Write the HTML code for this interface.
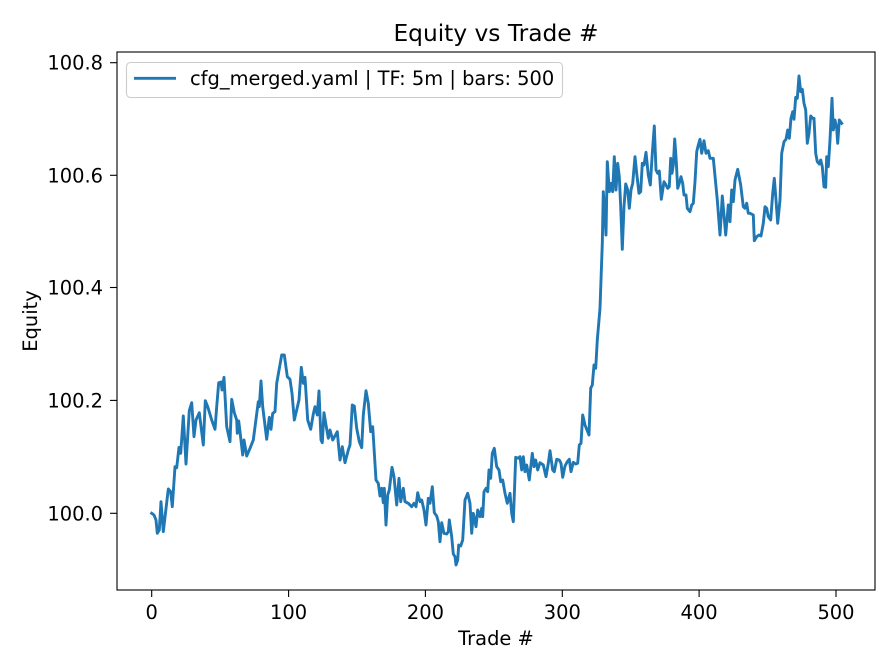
<!DOCTYPE html>
<html><head><meta charset="utf-8"><style>
html,body{margin:0;padding:0;background:#fff;}
svg{display:block;}
text{font-family:"DejaVu Sans","Liberation Sans",sans-serif;fill:#000;}
</style></head><body>
<svg width="896" height="672" viewBox="0 0 896 672" xmlns="http://www.w3.org/2000/svg">
<rect x="0" y="0" width="896" height="672" fill="#fff"/>
<text x="496" y="41" font-size="23.3" text-anchor="middle">Equity vs Trade #</text>
<polyline fill="none" stroke="#1f77b4" stroke-width="2.9" stroke-linejoin="round" stroke-linecap="square" points="
151.7,513.3 154,515 156,520 157.3,533.3 159.3,530 161,501.7 163.3,531.7 168.3,489 170.7,491.7 172.3,506.7 175,466.7 176.7,467.7 179,447.3 180.7,453.3 183.3,416 186,464 189.3,410.7 191.7,402.7 194,436.7 196,420 199.3,412.7 203.3,445 205.3,400.7 207.7,406.7 211.7,420 215,429.3 216.7,406.7 218.7,382.7 221,382 222,390 224,377.3 226.7,426.7 230,441.7 231.7,399.3 234.3,412.7 236.7,420 237.3,433.3 238.7,421 240,431.7 242.7,455 244,440 246.7,456 250,448.3 253.3,440 258.3,401.7 259.3,406.7 261,381 262.7,406.7 266.7,439.3 269.3,417.3 271,429.3 272.7,413.3 275,411.7 276.7,383.3 281.7,355 284.3,355 287.3,376.7 290,379.3 292,393.3 294.3,420 296.7,410 299,400 301.3,367.3 303.3,383.3 305,377.3 307.7,420 310.7,429.3 313.3,414 315,406.7 317.3,415 319,391 321,440 322.3,442.7 324,412.7 326,425 328.3,438.3
330,430 332.7,440 337.3,431.7 338.3,442.7 340,460 342.3,446.7 345,462.7 348.3,450 350,445 352.3,405 354.3,406 356.7,428.3 359.3,441.7 361.7,447.7 363.3,415 366,390.7 368.3,403.3 370.7,431.7 372.7,426.7 376,480 378.3,483.3 380,496 381.7,488.3 383.3,502.7 384.3,488.3 386,525 387.7,495 389.3,490 392,467.3 394,476.7 396.7,505 399,478.3 400.7,501.7 403.3,488.3 405,501.7 408.3,503.3 411.7,506.7 414,503.3 416,506.7 417.7,492.7 420,501.7 421.7,500 424,510 426,525 428.3,498.3 430,503.3 432.3,486.7 434.3,512.7 436.7,516 438.3,521.7 440,541.7 441.7,522.7 444,533.3 446.7,534 448.3,531.7 449.3,520 451.7,536.7 453.3,554 455,556.7 456,565 457.7,560 458.7,545 460.7,546 462.7,540 465,500 467.7,493.3 470,503.3 471.7,533.3 473.3,513.3 476,526.7 477.7,510 480,516.7 481.7,508.3 482.7,516.7 484,491.7 486,488.3 487.7,491.7 489,470 490.7,478.3 492.3,453.3 494.3,448.3 496.7,466.7 499,470 500.7,481.7 502.7,480 505,493.3 507.3,503.3
510,493.3 511.7,513.3 513.3,521.7 515.7,457.3 518.3,458.3 520,456.7 521.7,470 523.3,456.7 525,471.7 526.7,465 529.3,480 532.3,453.3 534,466.7 535.7,460 537.7,470 540,462.7 543.3,465 546,476.7 548.3,463.3 550,450.7 552.7,470 554.3,471.7 556.7,459.3 559.3,460 561,463.3 562.7,477.3 565,466 567.3,461.7 569.3,459.3 571,471.7 573.3,462.3 575.7,464 577.7,463.3 579.3,445 581,443.3 582.7,415 585,425 587.7,431.7 589,435 590.7,388.3 592.3,385 594,365 595.7,368.3 597.3,340 599,320 600,308.3
602.3,243.3 603.3,191.7 605,216.7 606,235 607.3,161.7 609.3,191.7 611,183.3 612.7,191.7 614.3,156.7 616,190 617.7,163.3 619.3,176.7 620.7,206.7 622.3,249.3 624,206.7 625.7,184 627.7,190 629.3,208.3 631,190 632.7,183.3 635,156.7 636.7,173.3 639,193.3 640.7,191.7 642.3,163.3 644,165 646,152.3 648.3,175 650.3,185 652.3,153.3 654.3,126 656,170 657.7,173.3 659.3,171 661.3,199.3 664,181.7 666,185 667.7,188.3 669.3,186.7 670.7,158.3 672,173.3 673.3,165 674.7,139 676,156.7 677.7,188.3 679.3,183.3 681,176.7 682.7,183.3 684,195 686,195 687.3,208.3 690,211.7 691.7,205 693.3,203.3 695,181.7 696.7,151.7 698.3,145
700,139.3 701.7,153.3 704,140.7 706,153.3 708.3,150.7 710,158.3 713.3,158.3 717.3,200 720,235 722.3,196 725.7,235 728.3,205 730,221.7 731.7,190 733.3,201.7 735,180 737.7,169.3 740.7,185 743.3,206.7 745,208.3 746.7,203.3 748.3,213.3 750,213.3 753.3,215 754.3,240.7 756.7,236.7 759,235 761,236 763.3,223.3 765,206.7 766.7,208.3 768.3,216.7 770.7,220 772.7,193.3 774.3,178.3 776,200 777.7,223.3 780,200 781.7,153.3 784,141.7 786,139.3 787.7,130 789.3,138.3 791,118.3 792.7,111.7 794,119.3 795.7,97.3 797.3,98.3 799,76 800.7,91.7 802.3,89.3 804,103.3 805.7,110 807.3,143.3 809,133.3 810.7,116 812.7,118.3 814,118.3 815.7,153.3 817.3,161.7 819.3,164 820.7,160 822.3,166.7 824,186.7 825.7,187.3 826.7,156.7 828.3,166.7 830,140 832,98.3 833.3,130 835,120 836.7,128.3 837.7,143.3 839.3,120 841.7,123.3"/>
<!-- axes frame -->
<rect x="117" y="52" width="758" height="538" fill="none" stroke="#000" stroke-width="1.1"/>
<!-- x ticks -->
<g stroke="#000" stroke-width="1.1">
<line x1="151.7" y1="590" x2="151.7" y2="597"/>
<line x1="288.6" y1="590" x2="288.6" y2="597"/>
<line x1="425.4" y1="590" x2="425.4" y2="597"/>
<line x1="562.3" y1="590" x2="562.3" y2="597"/>
<line x1="699.1" y1="590" x2="699.1" y2="597"/>
<line x1="836" y1="590" x2="836" y2="597"/>
<line x1="110" y1="513.3" x2="117" y2="513.3"/>
<line x1="110" y1="400.4" x2="117" y2="400.4"/>
<line x1="110" y1="287.5" x2="117" y2="287.5"/>
<line x1="110" y1="175.3" x2="117" y2="175.3"/>
<line x1="110" y1="62.7" x2="117" y2="62.7"/>
</g>
<g font-size="19.44" text-anchor="middle">
<text x="151.7" y="619">0</text>
<text x="288.6" y="619">100</text>
<text x="425.4" y="619">200</text>
<text x="562.3" y="619">300</text>
<text x="699.1" y="619">400</text>
<text x="836" y="619">500</text>
</g>
<g font-size="19.44" text-anchor="end">
<text x="103" y="520.3">100.0</text>
<text x="103" y="407.4">100.2</text>
<text x="103" y="294.5">100.4</text>
<text x="103" y="182.3">100.6</text>
<text x="103" y="69.7">100.8</text>
</g>
<text x="496" y="645" font-size="19.44" text-anchor="middle">Trade #</text>
<text transform="translate(37,321) rotate(-90)" font-size="19.44" text-anchor="middle">Equity</text>
<!-- legend -->
<rect x="126.5" y="62.5" width="436" height="35" rx="4" ry="4" fill="#fff" fill-opacity="0.8" stroke="#cccccc" stroke-width="1.1"/>
<line x1="134" y1="78.3" x2="176" y2="78.3" stroke="#1f77b4" stroke-width="2.9"/>
<text x="190" y="85" font-size="19.44">cfg_merged.yaml | TF: 5m | bars: 500</text>
</svg>
</body></html>
